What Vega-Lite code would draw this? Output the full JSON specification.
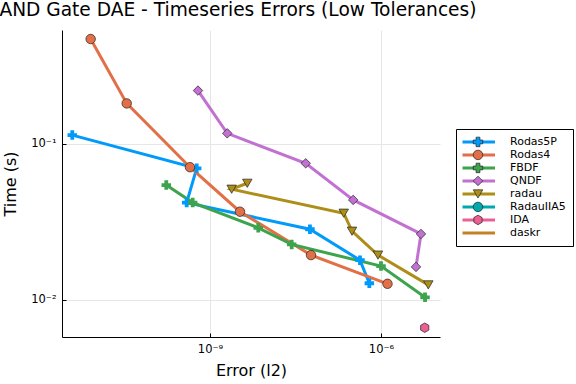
{
  "$schema": "https://vega.github.io/schema/vega-lite/v6.json",
  "width": 378,
  "height": 307,
  "autosize": {"type": "none"},
  "padding": {"left": 62, "top": 30, "right": 136, "bottom": 47},
  "background": "white",
  "title": {"text": "NAND Gate DAE - Timeseries Errors (Low Tolerances)", "fontSize": 18.6, "font": "DejaVu Sans", "fontWeight": "normal", "color": "black", "dx": -20, "offset": 10},
  "config": {"view": {"stroke": null}, "font": "DejaVu Sans"},
  "data": {"values": [
    {"solver": "Rodas5P", "i": 0, "error": 3.84e-12, "time": 0.114},
    {"solver": "Rodas5P", "i": 1, "error": 5.84e-10, "time": 0.0698},
    {"solver": "Rodas5P", "i": 2, "error": 3.90e-10, "time": 0.0421},
    {"solver": "Rodas5P", "i": 3, "error": 5.67e-8, "time": 0.0284},
    {"solver": "Rodas5P", "i": 4, "error": 4.28e-7, "time": 0.0180},
    {"solver": "Rodas5P", "i": 5, "error": 6.24e-7, "time": 0.0128},
    {"solver": "Rodas4", "i": 0, "error": 8.07e-12, "time": 0.471},
    {"solver": "Rodas4", "i": 1, "error": 3.46e-11, "time": 0.182},
    {"solver": "Rodas4", "i": 2, "error": 4.46e-10, "time": 0.0710},
    {"solver": "Rodas4", "i": 3, "error": 3.36e-9, "time": 0.0368},
    {"solver": "Rodas4", "i": 4, "error": 5.92e-8, "time": 0.0194},
    {"solver": "Rodas4", "i": 5, "error": 1.30e-6, "time": 0.0127},
    {"solver": "FBDF", "i": 0, "error": 1.71e-10, "time": 0.0545},
    {"solver": "FBDF", "i": 1, "error": 4.97e-10, "time": 0.0421},
    {"solver": "FBDF", "i": 2, "error": 7.03e-9, "time": 0.0290},
    {"solver": "FBDF", "i": 3, "error": 2.71e-8, "time": 0.0227},
    {"solver": "FBDF", "i": 4, "error": 1.0e-6, "time": 0.0165},
    {"solver": "FBDF", "i": 5, "error": 5.92e-6, "time": 0.0104},
    {"solver": "QNDF", "i": 0, "error": 6.16e-10, "time": 0.220},
    {"solver": "QNDF", "i": 1, "error": 2.01e-9, "time": 0.117},
    {"solver": "QNDF", "i": 2, "error": 4.78e-8, "time": 0.0752},
    {"solver": "QNDF", "i": 3, "error": 3.25e-7, "time": 0.0438},
    {"solver": "QNDF", "i": 4, "error": 5.03e-6, "time": 0.0265},
    {"solver": "QNDF", "i": 5, "error": 4.11e-6, "time": 0.0163},
    {"solver": "radau", "i": 0, "error": 4.51e-9, "time": 0.0560},
    {"solver": "radau", "i": 1, "error": 2.40e-9, "time": 0.0513},
    {"solver": "radau", "i": 2, "error": 2.22e-7, "time": 0.0360},
    {"solver": "radau", "i": 3, "error": 3.10e-7, "time": 0.0276},
    {"solver": "radau", "i": 4, "error": 8.85e-7, "time": 0.0194},
    {"solver": "radau", "i": 5, "error": 6.76e-6, "time": 0.0125},
    {"solver": "IDA", "i": 0, "error": 5.85e-6, "time": 0.00664}
  ]},
  "encoding": {
    "x": {
      "field": "error", "type": "quantitative",
      "scale": {"type": "log", "domain": [2.535e-12, 1.084e-5], "nice": false},
      "axis": {
        "title": "Error (l2)", "titleFontSize": 16, "titleFontWeight": "normal", "titleColor": "black", "titlePadding": 8,
        "values": [1e-9, 1e-6],
        "labelExpr": "datum.value < 1e-7 ? '10⁻⁹' : '10⁻⁶'",
        "labelFontSize": 11.5, "labelColor": "black", "labelPadding": 10,
        "grid": true, "gridColor": "#e6e6e6", "gridWidth": 1,
        "domainColor": "black", "domainWidth": 1,
        "tickColor": "black", "tickSize": -4, "tickWidth": 1
      }
    },
    "y": {
      "field": "time", "type": "quantitative",
      "scale": {"type": "log", "domain": [0.00579, 0.538], "nice": false},
      "axis": {
        "title": "Time (s)", "titleFontSize": 16, "titleFontWeight": "normal", "titleColor": "black", "titlePadding": 12,
        "values": [0.01, 0.1],
        "labelExpr": "datum.value > 0.05 ? '10⁻¹' : '10⁻²'",
        "labelFontSize": 11.5, "labelColor": "black", "labelPadding": 10,
        "grid": true, "gridColor": "#e6e6e6", "gridWidth": 1,
        "domainColor": "black", "domainWidth": 1,
        "tickColor": "black", "tickSize": -4, "tickWidth": 1
      }
    }
  },
  "layer": [
    {
      "mark": {"type": "line", "strokeWidth": 3},
      "encoding": {
        "order": {"field": "i", "type": "quantitative"},
        "stroke": {
          "field": "solver", "type": "nominal",
          "scale": {
            "domain": ["daskr", "IDA", "RadauIIA5", "radau", "QNDF", "FBDF", "Rodas4", "Rodas5P"],
            "range": ["#C68125", "#ED5E93", "#00A9AD", "#AC8E18", "#C271D2", "#3DA44D", "#E26F46", "#009AFA"]
          },
          "legend": {
            "title": null,
            "values": ["Rodas5P", "Rodas4", "FBDF", "QNDF", "radau", "RadauIIA5", "IDA", "daskr"],
            "orient": "none", "legendX": 394, "legendY": 99,
            "padding": 6.5,
            "labelFontSize": 11, "labelExpr": "''", "labelFont": "DejaVu Sans",
            "symbolType": "stroke", "symbolSize": 1156, "symbolStrokeWidth": 3,
            "symbolOffset": -3, "labelOffset": 0.5,
            "clipHeight": 12.86, "rowPadding": 0
          }
        }
      }
    },
    {
      "mark": {"type": "point", "filled": true, "size": 90, "opacity": 1, "stroke": "#222222", "strokeWidth": 0.7},
      "encoding": {
        "color": {
          "field": "solver", "type": "nominal",
          "scale": {
            "domain": ["Rodas5P", "Rodas4", "FBDF", "QNDF", "radau", "RadauIIA5", "IDA", "daskr"],
            "range": ["#009AFA", "#E26F46", "#3DA44D", "#C271D2", "#AC8E18", "#00A9AD", "#ED5E93", "#C68125"]
          },
          "legend": {
            "title": null,
            "orient": "none", "legendX": 394, "legendY": 99,
            "padding": 6.5,
            "strokeColor": "black",
            "labelFontSize": 11, "labelColor": "black", "labelFont": "DejaVu Sans",
            "symbolSize": 90, "symbolStrokeWidth": 0.7, "symbolStrokeColor": "#222222",
            "symbolOffset": 10, "labelOffset": 26.5,
            "clipHeight": 12.86, "rowPadding": 0
          }
        },
        "shape": {
          "field": "solver", "type": "nominal",
          "scale": {
            "domain": ["Rodas5P", "Rodas4", "FBDF", "QNDF", "radau", "RadauIIA5", "IDA", "daskr"],
            "range": ["cross", "circle", "cross", "diamond", "triangle-down", "circle", "M0,-1L0.866,-0.5L0.866,0.5L0,1L-0.866,0.5L-0.866,-0.5Z", "M0,0"]
          }
        },
        "strokeOpacity": {"condition": {"test": "datum.solver === 'Rodas5P' || datum.solver === 'FBDF'", "value": 0}, "value": 1}
      }
    }
  ]
}
